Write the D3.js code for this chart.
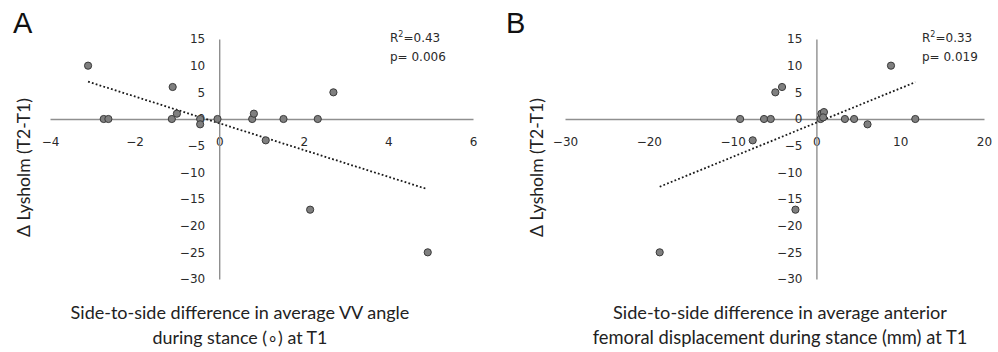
<!DOCTYPE html>
<html><head><meta charset="utf-8">
<script src="https://cdn.jsdelivr.net/npm/d3@7"></script>
<style>
body{margin:0;background:#fff;}
svg{display:block;}
</style></head>
<body>
<svg id="c" width="998" height="352"></svg>
<script>
// Panel A data
const aX = [-3.1, -1.1, 2.7, -2.73, -2.62, -1.12, -1.0, -0.45, -0.45, -0.04, 0.78, 0.82, 1.52, 2.33, 1.1, 2.15, 4.93];
const aY = [10, 6, 5, 0, 0, 0, 1, 0, -1, 0, 0, 1, 0, 0, -4, -17, -25];
const aTrendX = [-3.1, 4.9];
const aTrendY = [7.0, -13.1];
const aXTicks = [-4, -2, 0, 2, 4, 6];
// Panel B data
const bX = [8.9, -4.1, -4.9, -9.1, -6.25, -5.45, -7.6, 0.5, 0.6, 0.9, 0.8, 3.4, 4.5, 6.1, 11.8, -2.5, -18.7];
const bY = [10, 6, 5, 0, 0, 0, -4, 0, 1, 1.3, 0.3, 0, 0, -1, 0, -17, -25];
const bTrendX = [-18.7, 11.8];
const bTrendY = [-12.7, 6.9];
const bXTicks = [-30, -20, -10, 0, 10, 20];
const yTicks = [15, 10, 5, 0, -5, -10, -15, -20, -25, -30];
const yTitle = "\u0394 Lysholm (T2-T1)";

const svg = d3.select("#c");
const tickFont = "'DejaVu Sans', Verdana, sans-serif";
const titleFont = "Lato, 'Open Sans', sans-serif";

function fitText(sel, target){
  const w = sel.node().getComputedTextLength();
  const fs = parseFloat(sel.attr("font-size"));
  sel.attr("font-size", (fs * target / w).toFixed(2));
}

function panel(cfg){
  const x = d3.scaleLinear().domain(cfg.xDomain).range(cfg.xRange);
  const y = d3.scaleLinear().domain([-30, 15]).range([279, 39]);
  const g = svg.append("g");

  const xa = g.append("g").attr("transform", `translate(0,${y(0)})`)
    .call(d3.axisBottom(x).tickValues(cfg.xTicks).tickSize(0).tickPadding(18).tickFormat(d3.format("d")));
  const ya = g.append("g").attr("transform", `translate(${x(0)},0)`)
    .call(d3.axisLeft(y).tickValues(yTicks).tickSize(0).tickPadding(14).tickFormat(d3.format("d")));
  [xa, ya].forEach(a => {
    a.select(".domain").attr("stroke", "#8f8f8f").attr("stroke-width", 1.4);
    a.selectAll("text").attr("font-family", tickFont).attr("font-size", 12).attr("fill", "#2a2a2a");
  });

  // trendline
  g.append("path")
    .datum(d3.zip(cfg.tX, cfg.tY))
    .attr("d", d3.line().x(d => x(d[0])).y(d => y(d[1])))
    .attr("fill", "none").attr("stroke", "#1a1a1a").attr("stroke-width", 1.8)
    .attr("stroke-dasharray", "1.8 2.2");

  // points
  g.selectAll("circle.pt").data(d3.zip(cfg.px, cfg.py)).join("circle")
    .attr("class", "pt")
    .attr("cx", d => x(d[0])).attr("cy", d => y(d[1])).attr("r", 3.6)
    .attr("fill", "#7f7f7f").attr("stroke", "#3a3a3a").attr("stroke-width", 1);

  // panel letter
  g.append("text").attr("x", cfg.letterX).attr("y", 33).text(cfg.letter)
    .attr("font-family", "'Liberation Sans', Arial, sans-serif").attr("font-size", 29).attr("fill", "#111");

  // stats
  const st = g.append("text").attr("x", cfg.statX).attr("y", 42)
    .attr("font-family", tickFont).attr("font-size", 12).attr("fill", "#2a2a2a");
  st.append("tspan").text("R");
  st.append("tspan").text("2").attr("font-size", 8).attr("dy", -5);
  st.append("tspan").text("=" + cfg.r2).attr("dy", 5);
  g.append("text").attr("x", cfg.statX).attr("y", 61).text("p= " + cfg.p)
    .attr("font-family", tickFont).attr("font-size", 12).attr("fill", "#2a2a2a");

  // y title
  const yt = g.append("text").attr("transform", `translate(${cfg.yTitleX},167.5) rotate(-90)`)
    .attr("text-anchor", "middle").text(yTitle)
    .attr("font-family", titleFont).attr("font-size", 16).attr("fill", "#222");
  fitText(yt, 139);

  // x title
  cfg.xTitle.forEach((t, i) => {
    const tt = g.append("text").attr("x", cfg.xTitleX).attr("y", 319 + i * 25)
      .attr("text-anchor", "middle").text(t)
      .attr("font-family", titleFont).attr("font-size", 16).attr("fill", "#222");
    fitText(tt, cfg.xTitleW[i]);
  });
}

panel({xDomain: [-4, 6], xRange: [50, 473], xTicks: aXTicks, px: aX, py: aY, tX: aTrendX, tY: aTrendY,
  letter: "A", letterX: 13, statX: 390, r2: "0.43", p: "0.006", yTitleX: 30, xTitleX: 240, xTitleW: [339, 175],
  xTitle: ["Side-to-side difference in average VV angle", "during  stance (\u2218) at T1"]});
panel({xDomain: [-30, 20], xRange: [565, 984], xTicks: bXTicks, px: bX, py: bY, tX: bTrendX, tY: bTrendY,
  letter: "B", letterX: 506, statX: 922, r2: "0.33", p: "0.019", yTitleX: 543, xTitleX: 780, xTitleW: [334, 375],
  xTitle: ["Side-to-side difference in average anterior", "femoral displacement during stance (mm)  at T1"]});
</script>
</body></html>
